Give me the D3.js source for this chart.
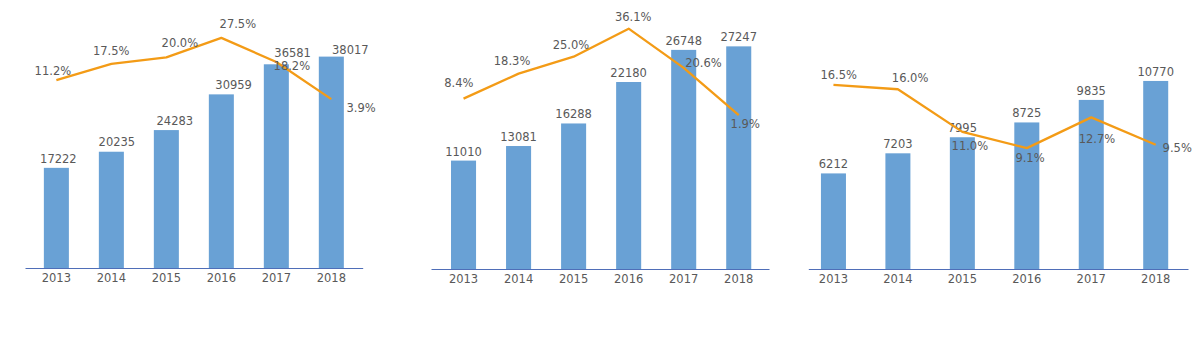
<!DOCTYPE html>
<html>
<head>
<meta charset="utf-8">
<script src="https://cdn.jsdelivr.net/npm/d3@7/dist/d3.min.js"></script>
<style>
  html, body { margin: 0; padding: 0; background: #ffffff; }
  svg { display: block; }
  text { font-family: "DejaVu Sans", sans-serif; font-size: 11.5px; fill: #595959; }
</style>
</head>
<body>
<svg id="chart" width="1200" height="350"></svg>
<script>
// ---------------- data ----------------
const years = ["2013", "2014", "2015", "2016", "2017", "2018"];

const valuesA = [17222, 20235, 24283, 30959, 36581, 38017];
const growthA = [11.2, 17.5, 20.0, 27.5, 18.2, 3.9];

const valuesB = [11010, 13081, 16288, 22180, 26748, 27247];
const growthB = [8.4, 18.3, 25.0, 36.1, 20.6, 1.9];

const valuesC = [6212, 7203, 7995, 8725, 9835, 10770];
const growthC = [16.5, 16.0, 11.0, 9.1, 12.7, 9.5];

// ---------------- layout (positions / styles) ----------------
const BAR_COLOR = "#69a1d5";
const LINE_COLOR = "#f39b16";
const AXIS_COLOR = "#4f6eb8";

const panels = [
  {
    values: valuesA, growth: growthA,
    x0: 25, x1: 362.7, padInner: 0.545, padOuter: 0.343, align: 0.5,
    base: 268, barDomain: [-1500, 40000], barTop: 46,
    pctDomain: [0, 40], pctRange: [109.2, 5.4],
    barLabelDx: [2, 5.5, 8.5, 12.3, 16.3, 19],
    barLabelDy: [-5, -5.3, -5, -5.3, -7.7, -3],
    pctLabelDx: [-3.5, -0.2, 13.5, 16.5, 15.5, 29.8],
    pctLabelDy: [-5, -8.3, -10, -9.4, 8.3, 13.4]
  },
  {
    values: valuesB, growth: growthB,
    x0: 431, x1: 769, padInner: 0.545, padOuter: 0.343, align: 0.53,
    base: 269, barDomain: [-4400, 30000], barTop: 27,
    pctDomain: [0, 40], pctRange: [119.9, 18.8],
    barLabelDx: [0, 0, 0, 0, 0, 0],
    barLabelDy: [-5, -5, -5, -5, -5, -5],
    pctLabelDx: [-4.7, -6.5, -2.7, 4.5, 19.8, 6.5],
    pctLabelDy: [-11.7, -8.3, -7.3, -7.7, -1.3, 13]
  },
  {
    values: valuesC, growth: growthC,
    x0: 808.3, x1: 1188, padInner: 0.612, padOuter: 0.2516, align: 0.39,
    base: 269, barDomain: [1500, 12000], barTop: 56,
    pctDomain: [0, 20], pctRange: [225.8, 55.1],
    barLabelDx: [0, 0, 0, 0, 0, 0],
    barLabelDy: [-5, -5, -5, -5, -5, -5],
    pctLabelDx: [5.2, 12.2, 7.5, 3.2, 5.7, 21.5],
    pctLabelDy: [-5.7, -7.7, 17.7, 14.3, 25.3, 7.4]
  }
];

const svg = d3.select("#chart");
svg.append("rect").attr("width", 1200).attr("height", 350).attr("fill", "#ffffff");

const fmtPct = v => d3.format(".1f")(v) + "%";

panels.forEach(p => {
  const g = svg.append("g");

  const x = d3.scaleBand()
    .domain(years)
    .range([p.x0, p.x1])
    .paddingInner(p.padInner)
    .paddingOuter(p.padOuter)
    .align(p.align);

  const y = d3.scaleLinear().domain(p.barDomain).range([p.base, p.barTop]);
  const y2 = d3.scaleLinear().domain(p.pctDomain).range(p.pctRange);

  const rows = years.map((yr, i) => ({ yr, i, v: p.values[i], g: p.growth[i] }));

  // bars
  g.selectAll("rect.bar").data(rows).join("rect")
    .attr("class", "bar")
    .attr("x", d => x(d.yr))
    .attr("width", x.bandwidth())
    .attr("y", d => y(d.v))
    .attr("height", d => p.base - y(d.v))
    .attr("fill", BAR_COLOR);

  // axis
  const axis = g.append("g")
    .attr("transform", `translate(0,${p.base})`)
    .call(d3.axisBottom(x).tickSize(0).tickSizeOuter(0).tickPadding(6));
  axis.select(".domain").attr("stroke", AXIS_COLOR).attr("stroke-width", 1);
  axis.selectAll("text")
    .attr("fill", "#595959")
    .style("font-family", "'DejaVu Sans', sans-serif")
    .style("font-size", "11.5px");

  // bar value labels
  g.selectAll("text.barlabel").data(rows).join("text")
    .attr("class", "barlabel")
    .attr("text-anchor", "middle")
    .attr("x", d => x(d.yr) + x.bandwidth() / 2 + p.barLabelDx[d.i])
    .attr("y", d => y(d.v) + p.barLabelDy[d.i])
    .text(d => d.v);

  // growth line
  const line = d3.line()
    .x(d => x(d.yr) + x.bandwidth() / 2)
    .y(d => y2(d.g));
  g.append("path")
    .datum(rows)
    .attr("d", line)
    .attr("fill", "none")
    .attr("stroke", LINE_COLOR)
    .attr("stroke-width", 2.3)
    .attr("stroke-linejoin", "round");

  // growth labels
  g.selectAll("text.pctlabel").data(rows).join("text")
    .attr("class", "pctlabel")
    .attr("text-anchor", "middle")
    .attr("x", d => x(d.yr) + x.bandwidth() / 2 + p.pctLabelDx[d.i])
    .attr("y", d => y2(d.g) + p.pctLabelDy[d.i])
    .text(d => fmtPct(d.g));
});
</script>
</body>
</html>
